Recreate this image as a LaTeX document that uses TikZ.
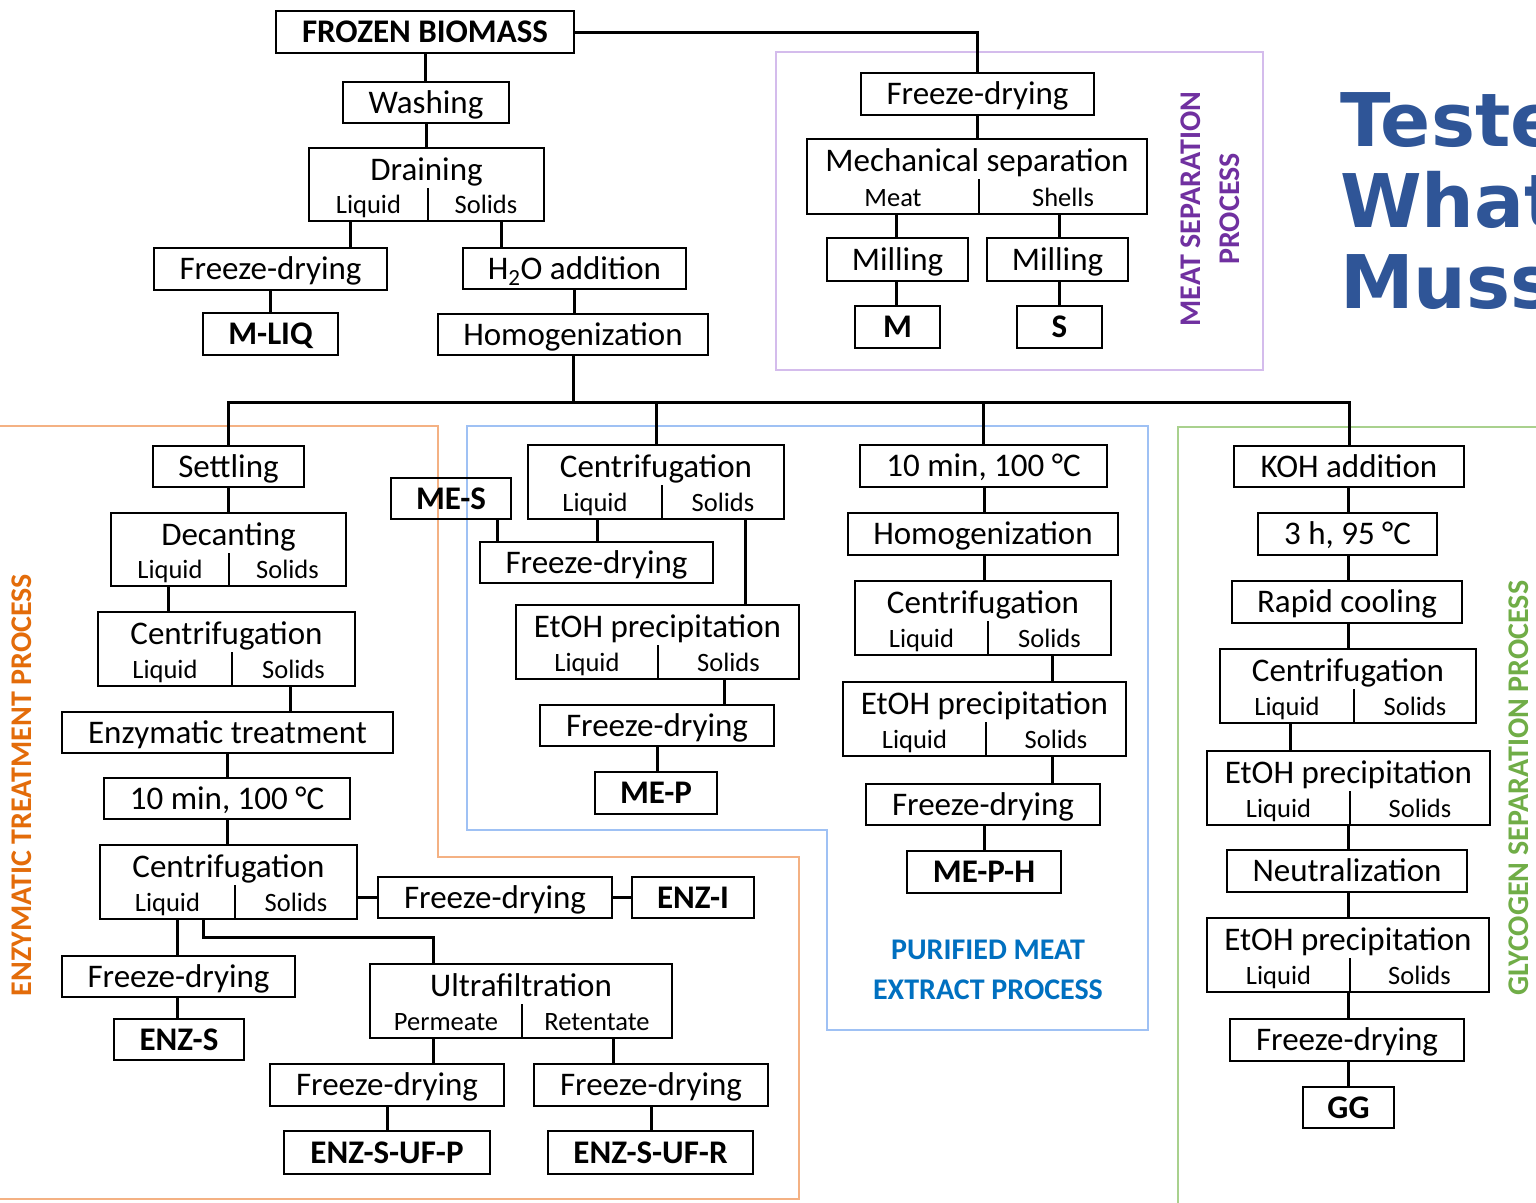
\documentclass[tikz,border=0pt]{standalone}
\usepackage{fontspec}
\setmainfont{Carlito}
\newfontfamily\titlefont{DejaVu Sans}

\definecolor{titleblue}{HTML}{2F5597}
\definecolor{enzText}{HTML}{E36C0A}
\definecolor{glyText}{HTML}{70AD47}
\definecolor{meatText}{HTML}{7030A0}
\definecolor{pmeText}{HTML}{0070C0}
\definecolor{enzLine}{HTML}{F4B183}
\definecolor{pmeLine}{HTML}{9FC1F4}
\definecolor{glyLine}{HTML}{A9D18E}
\definecolor{meatLine}{HTML}{D4BCEC}

\tikzset{
  box/.style={draw=black, line width=2pt, inner sep=0pt, text height=21pt, text depth=0pt,
              font=\fontsize{33}{40}\selectfont},
  bbox/.style={box, font=\fontsize{33}{40}\selectfont\bfseries},
  ttl/.style={inner sep=0pt, text height=21pt, text depth=0pt, font=\fontsize{33}{40}\selectfont},
  lbl/.style={inner sep=0pt, text height=17pt, text depth=0pt, font=\fontsize{26.5}{30}\selectfont},
  conn/.style={draw=black, line width=3pt},
  divline/.style={draw=black, line width=1.3pt},
  region/.style={line width=2.8pt},
  proc/.style={inner sep=0pt, font=\bfseries\fontsize{30}{39}\selectfont, align=center},
}

% plain box: [style]{name}{x1}{y1}{x2}{y2}{text}
\newcommand{\bx}[7][box]{%
  \node[#1, minimum width={#5-#3}, minimum height={#6-#4}] (#2) at ({(#3+#5)/2},{(#4+#6)/2}) {#7};}
% split box: {name}{x1}{y1}{x2}{y2}{divider x}{title}{left}{right}
\newcommand{\spl}[9]{%
  \node[box, minimum width={#4-#2}, minimum height={#5-#3}] (#1) at ({(#2+#4)/2},{(#3+#5)/2}) {};
  \node[ttl] (#1-t) at ({(#2+#4)/2},{#3+22}) {#7};
  \draw[divline] (#6,{#3+40}) -- (#1.south -| #6,0);
  \node[lbl] (#1-l) at ({(#2+#6)/2},{#5-16}) {#8};
  \node[lbl] (#1-r) at ({(#6+#4)/2},{#5-16}) {#9};}
% vertical connector from the bottom of one node to the top of another at a given x
\newcommand{\vx}[3]{\draw[conn] (#1.south -| #3,0) -- (#2.north -| #3,0);}
% straight connector below a node
\newcommand{\vv}[2]{\draw[conn] (#1.south) -- (#1.south |- #2.north);}

\begin{document}
\begin{tikzpicture}[x=1pt, y=-1pt]
\useasboundingbox (0,0) rectangle (1536,1202);
\clip (0,0) rectangle (1536,1202);
\fill[white] (0,0) rectangle (1536,1202);

% process regions
\draw[region, meatLine] (776,52) rectangle (1263,370);
\draw[region, enzLine] (-10,426) -- (438,426) -- (438,857) -- (799,857) -- (799,1199) -- (-10,1199);
\draw[region, pmeLine] (467,426) -- (1148,426) -- (1148,1030) -- (827,1030) -- (827,830) -- (467,830) -- cycle;
\draw[region, glyLine] (1178,1210) -- (1178,427) -- (1545,427);

% region titles
\node[proc, rotate=90, text=enzText] (enzT) at (22,785) {ENZYMATIC TREATMENT PROCESS};
\node[proc, rotate=90, text=glyText] (glyT) at (1519,788) {GLYCOGEN SEPARATION PROCESS};
\node[proc, rotate=90, text=meatText] (meatT) at (1210,209) {MEAT SEPARATION\\PROCESS};
\node[proc, text=pmeText, font=\bfseries\fontsize{30}{40}\selectfont] (pmeT) at (988,970) {PURIFIED MEAT\\EXTRACT PROCESS};

% heading
\begin{scope}[every node/.style={anchor=base west, inner sep=0pt, text=titleblue,
    font=\titlefont\bfseries\fontsize{74}{80}\selectfont}]
  \node (h1) at (1340,146) {Teste};
  \node (h2) at (1340,227) {What};
  \node (h3) at (1340,308) {Muss};
\end{scope}

% pre-treatment
\bx[bbox]{frozen}{276}{11}{574}{53}{FROZEN BIOMASS}
\bx{wash}{343}{82}{509}{123}{Washing}
\spl{drain}{309}{148}{544}{221}{428}{Draining}{Liquid}{Solids}
\bx{fdl}{154}{248}{387}{290}{Freeze-drying}
\bx{h2o}{463}{248}{686}{289}{H\textsubscript{2}O addition}
\bx[bbox]{mliq}{203}{313}{338}{355}{M-LIQ}
\bx{homog}{438}{314}{708}{355}{Homogenization}

\vv{frozen}{wash}
\vv{wash}{drain}
\vx{drain}{fdl}{350}
\vx{drain}{h2o}{501}
\vv{fdl}{mliq}
\vv{h2o}{homog}

% meat separation
\bx{fdm}{861}{73}{1094}{115}{Freeze-drying}
\spl{mech}{807}{139}{1147}{214}{979}{Mechanical separation}{Meat}{Shells}
\bx{mill1}{827}{238}{968}{281}{Milling}
\bx{mill2}{987}{238}{1128}{281}{Milling}
\bx[bbox]{prodM}{855}{306}{940}{348}{M}
\bx[bbox]{prodS}{1017}{306}{1102}{348}{S}

\draw[conn] (frozen.east) -| (fdm.north);
\vv{fdm}{mech}
\vx{mech}{mill1}{896}
\vx{mech}{mill2}{1059}
\vx{mill1}{prodM}{896}
\vx{mill2}{prodS}{1059}

% enzymatic treatment
\bx{settle}{153}{446}{304}{487}{Settling}
\spl{dec}{111}{513}{346}{586}{229}{Decanting}{Liquid}{Solids}
\spl{cen1}{98}{612}{355}{686}{232}{Centrifugation}{Liquid}{Solids}
\bx{enzt}{62}{712}{393}{753}{Enzymatic treatment}
\bx{ten1}{104}{778}{350}{819}{10 min, 100 °C}
\spl{cen2}{100}{845}{357}{919}{235}{Centrifugation}{Liquid}{Solids}
\bx{fdr}{378}{877}{612}{918}{Freeze-drying}
\bx[bbox]{enzi}{632}{877}{754}{918}{ENZ-I}
\bx{fdl2}{62}{956}{295}{997}{Freeze-drying}
\bx[bbox]{enzs}{114}{1019}{244}{1060}{ENZ-S}
\spl{uf}{370}{964}{672}{1038}{522}{Ultrafiltration}{Permeate}{Retentate}
\bx{fdp}{270}{1064}{504}{1106}{Freeze-drying}
\bx{fdq}{534}{1064}{768}{1106}{Freeze-drying}
\bx[bbox]{ufp}{284}{1131}{490}{1174}{ENZ-S-UF-P}
\bx[bbox]{ufr}{548}{1131}{753}{1174}{ENZ-S-UF-R}

\vv{settle}{dec}
\vx{dec}{cen1}{168}
\vx{cen1}{enzt}{290}
\vv{enzt}{ten1}
\vv{ten1}{cen2}
\draw[conn] (fdr.west) -- (fdr.west -| cen2.east);
\draw[conn] (fdr.east) -- (enzi.west);
\vx{cen2}{fdl2}{177}
\vx{fdl2}{enzs}{177}
\draw[conn] (cen2.south -| 203,0) -- (203,937) -| (uf.north -| 433,0);
\vx{uf}{fdp}{433}
\vx{uf}{fdq}{613}
\vv{fdp}{ufp}
\vv{fdq}{ufr}

% meat extract
\spl{cenA}{528}{445}{784}{519}{662}{Centrifugation}{Liquid}{Solids}
\bx[bbox]{mes}{391}{478}{511}{519}{ME-S}
\bx{fdA}{480}{542}{713}{583}{Freeze-drying}
\spl{etA}{516}{605}{799}{679}{658}{EtOH precipitation}{Liquid}{Solids}
\bx{fdA2}{540}{705}{774}{746}{Freeze-drying}
\bx[bbox]{mep}{595}{772}{717}{814}{ME-P}

\vx{mes}{fdA}{497}
\vx{cenA}{fdA}{597}
\vx{cenA}{etA}{745}
\vx{etA}{fdA2}{724}
\vv{fdA2}{mep}

% purified meat extract
\bx{tenB}{860}{445}{1107}{487}{10 min, 100 °C}
\bx{homB}{848}{513}{1118}{555}{Homogenization}
\spl{cenB}{855}{581}{1111}{655}{988}{Centrifugation}{Liquid}{Solids}
\spl{etB}{843}{682}{1126}{756}{986}{EtOH precipitation}{Liquid}{Solids}
\bx{fdB}{866}{784}{1100}{825}{Freeze-drying}
\bx[bbox]{meph}{907}{851}{1061}{893}{ME-P-H}

\vx{tenB}{homB}{984}
\vx{homB}{cenB}{984}
\vx{cenB}{etB}{1052}
\vx{etB}{fdB}{1052}
\vx{fdB}{meph}{984}

% glycogen separation
\bx{koh}{1234}{446}{1464}{487}{KOH addition}
\bx{h95}{1258}{513}{1437}{555}{3 h, 95 °C}
\bx{cool}{1232}{581}{1462}{623}{Rapid cooling}
\spl{cenC}{1220}{649}{1476}{723}{1354}{Centrifugation}{Liquid}{Solids}
\spl{etC}{1207}{751}{1490}{825}{1350}{EtOH precipitation}{Liquid}{Solids}
\bx{neut}{1227}{850}{1467}{892}{Neutralization}
\spl{etD}{1207}{918}{1489}{992}{1350}{EtOH precipitation}{Liquid}{Solids}
\bx{fdC}{1230}{1019}{1464}{1061}{Freeze-drying}
\bx[bbox]{gg}{1303}{1087}{1394}{1128}{GG}

\vx{koh}{h95}{1348}
\vx{h95}{cool}{1348}
\vx{cool}{cenC}{1348}
\vx{cenC}{etC}{1290}
\vx{etC}{neut}{1348}
\vx{neut}{etD}{1348}
\vx{etD}{fdC}{1348}
\vx{fdC}{gg}{1348}

% main distribution line
\coordinate (bus) at (0,402);
\draw[conn] (homog.south) -- (homog.south |- bus);
\draw[conn] (settle.north) -- (settle.north |- bus) -- (koh.north |- bus) -- (koh.north);
\draw[conn] (cenA.north) -- (cenA.north |- bus);
\draw[conn] (tenB.north) -- (tenB.north |- bus);
\end{tikzpicture}
\end{document}
